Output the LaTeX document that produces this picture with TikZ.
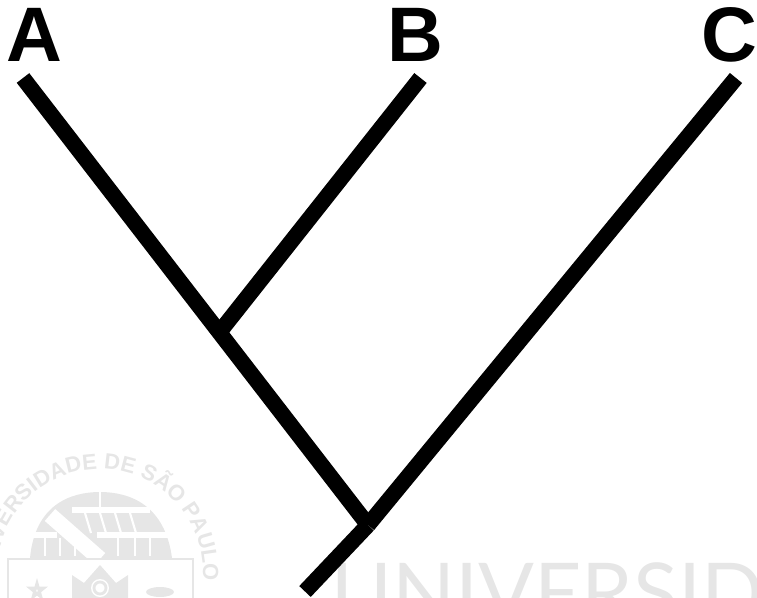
\documentclass[tikz,border=0pt]{standalone}
\usepackage{fontspec}
\setmainfont{Liberation Sans}
\newfontfamily\wmfont{Lato}
\usetikzlibrary{decorations.text}
\definecolor{wmgray}{HTML}{E6E6E6}

\begin{document}
\begin{tikzpicture}[
        x=0.02cm, y=-0.02cm,
        taxon/.style={font=\fontsize{44}{44}\selectfont\bfseries, text=black, inner sep=0pt, anchor=base},
        branch/.style={line width=9pt, black},
        wmline/.style={wmgray, line width=1.6pt},
        wmbar/.style={white, line width=3pt}
    ]
    \clip (0,0) rectangle (757,598);

    % Watermark seal
    \path[decorate, decoration={text along path, text align=right,
        text={|\fontsize{12.5}{14}\selectfont\bfseries\color{wmgray}|UNIVERSIDADE DE SÃO PAULO}}]
        (10.8,623.5) arc[start angle=150, end angle=365, radius=103];
    \fill[wmgray] (30,558) .. controls (35,505) and (70,492) .. (100,492)
        .. controls (130,492) and (165,505) .. (172,558) -- cycle;
    \draw[wmbar, line width=9pt] (50,515) -- (100,559);
    \draw[wmbar] (72,510) -- (150,510);
    \draw[wmbar] (97,535) -- (169,535);
    \draw[wmbar] (33,535) -- (57,535);
    \draw[wmbar, line width=1.5pt] (100,490) -- (100,510);
    \foreach \xb in {45,60,75,118,135,150}
        \draw[wmbar, line width=1.2pt] (\xb,538) -- (\xb,556);
    \foreach \xb in {85,100,115,130}
        \draw[wmbar, line width=1.2pt] (\xb,513) -- (\xb+6,533);
    \draw[wmline] (8,598) -- (8,559) -- (193,559) -- (193,598);
    % Church, star and cap in the shield
    \fill[wmgray] (72,598) -- (72,575) -- (84,583) -- (100,565) -- (116,583) -- (128,575) -- (128,598) -- cycle;
    \fill[white] (100,588) circle[radius=9];
    \draw[wmline] (100,588) circle[radius=6];
    \draw[wmline] (37,583) -- (41,597) -- (30,588) -- (44,588) -- (33,597) -- cycle;
    \fill[wmgray] (160,592) ellipse[x radius=14, y radius=5];

    % Watermark name
    \node[font=\fontsize{47}{47}\wmfont, text=wmgray, inner sep=0pt, anchor=base west] (wmname) at (331,622) {UNIVERSID};

    % Tips
    \node[taxon] (a) at (34,62) {A};
    \node[taxon] (b) at (415,62) {B};
    \node[taxon] (c) at (729,62) {C};
    \coordinate (a_tip) at (23,78);
    \coordinate (b_tip) at (420.5,78);
    \coordinate (c_tip) at (736,78);
    \coordinate (ab_join) at (222,329);
    \coordinate (abc_join) at (368,525);
    \coordinate (root) at (305,591.5);

    % Branches
    \draw[branch] (a_tip) -- (abc_join);
    \draw[branch] (b_tip) -- (ab_join);
    \draw[branch] (c_tip) -- (abc_join);
    \draw[branch] (abc_join) -- (root);

\end{tikzpicture}
\end{document}
